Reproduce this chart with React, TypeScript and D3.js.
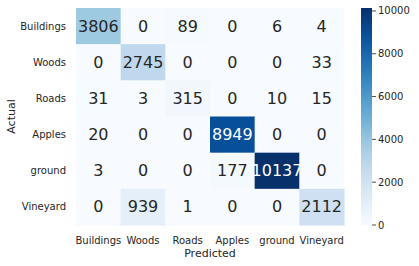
import React from "react";
import * as d3 from "d3";

const labels = ["Buildings", "Woods", "Roads", "Apples", "ground", "Vineyard"];
const matrix: number[][] = [
  [3806, 0, 89, 0, 6, 4],
  [0, 2745, 0, 0, 0, 33],
  [31, 3, 315, 0, 10, 15],
  [20, 0, 0, 8949, 0, 0],
  [3, 0, 0, 177, 10137, 0],
  [0, 939, 1, 0, 0, 2112],
];
const cbTicks = [0, 2000, 4000, 6000, 8000, 10000];
const bluesStops = ["#f7fbff", "#deebf7", "#c6dbef", "#9ecae1", "#6baed6", "#4292c6", "#2171b5", "#08519c", "#08306b"];

const W = 419, H = 266;
const left = 76, right = 344, top = 8, bottom = 225;
const cbX = 361, cbW = 11;
const font = "DejaVu Sans, sans-serif";
const textDark = "#262626";

export default function App() {
  const vmax = d3.max(matrix.flat()) as number;
  const vmin = d3.min(matrix.flat()) as number;
  const cmap = d3
    .scaleLinear<string>()
    .domain(bluesStops.map((_, i) => i / (bluesStops.length - 1)))
    .range(bluesStops)
    .interpolate(d3.interpolateRgb)
    .clamp(true);
  const norm = d3.scaleLinear().domain([vmin, vmax]).range([0, 1]);
  const color = (v: number) => cmap(norm(v));

  const x = d3.scaleBand<number>().domain(d3.range(labels.length)).range([left, right]);
  const y = d3.scaleBand<number>().domain(d3.range(labels.length)).range([top, bottom]);
  const cbY = d3.scaleLinear().domain([vmin, vmax]).range([bottom, top]);

  const lum = (c: string) => {
    const rgb = d3.rgb(c);
    const f = (u: number) => {
      u /= 255;
      return u <= 0.03928 ? u / 12.92 : Math.pow((u + 0.055) / 1.055, 2.4);
    };
    return 0.2126 * f(rgb.r) + 0.7152 * f(rgb.g) + 0.0722 * f(rgb.b);
  };

  const gradStops = d3.range(0, 1.0001, 0.05);

  return (
    <svg width={W} height={H} style={{ position: "absolute", left: 0, top: 0, background: "#fff" }} fontFamily={font}>
      <defs>
        <linearGradient id="cb" x1="0" y1="1" x2="0" y2="0">
          {gradStops.map((t) => (
            <stop key={t} offset={t} stopColor={cmap(t)} />
          ))}
        </linearGradient>
      </defs>
      {matrix.map((row, i) =>
        row.map((v, j) => {
          const c = color(v);
          return (
            <g key={`${i}-${j}`}>
              <rect x={x(j)} y={y(i)} width={x.bandwidth() + 0.5} height={y.bandwidth() + 0.5} fill={c} />
              <text
                x={(x(j) as number) + x.bandwidth() / 2}
                y={(y(i) as number) + y.bandwidth() / 2}
                textAnchor="middle"
                dominantBaseline="central"
                fontSize={16}
                fill={lum(c) > 0.408 ? textDark : "#ffffff"}
              >
                {v}
              </text>
            </g>
          );
        })
      )}
      {labels.map((l, i) => (
        <text key={"y" + l} x={66} y={(y(i) as number) + y.bandwidth() / 2} textAnchor="end" dominantBaseline="central" fontSize={10} fill={textDark}>
          {l}
        </text>
      ))}
      {labels.map((l, j) => (
        <text key={"x" + l} x={(x(j) as number) + x.bandwidth() / 2} y={240} textAnchor="middle" dominantBaseline="central" fontSize={10} fill={textDark}>
          {l}
        </text>
      ))}
      <text x={(left + right) / 2} y={253} textAnchor="middle" dominantBaseline="central" fontSize={11} fill={textDark}>
        Predicted
      </text>
      <text transform={`translate(11,${(top + bottom) / 2}) rotate(-90)`} textAnchor="middle" dominantBaseline="central" fontSize={11} fill={textDark}>
        Actual
      </text>
      <rect x={cbX} y={top} width={cbW} height={bottom - top} fill="url(#cb)" />
      {cbTicks.map((t) => (
        <g key={"cb" + t}>
          <line x1={cbX + cbW} x2={cbX + cbW + 4} y1={cbY(t)} y2={cbY(t)} stroke={textDark} strokeWidth={0.8} />
          <text x={cbX + cbW + 6} y={cbY(t)} dominantBaseline="central" fontSize={10} fill={textDark}>
            {t}
          </text>
        </g>
      ))}
    </svg>
  );
}
